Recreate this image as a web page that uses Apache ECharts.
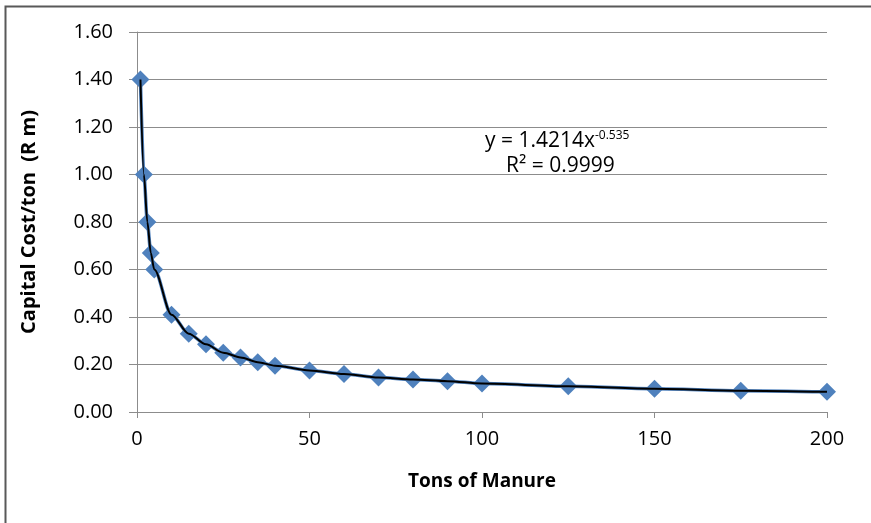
<!DOCTYPE html>
<html>
<head>
<meta charset="utf-8">
<script src="https://cdn.jsdelivr.net/npm/echarts@6/dist/echarts.min.js"></script>
<style>html,body{margin:0;padding:0;background:#fff}#c{width:871px;height:523px}</style>
</head>
<body>
<div id="c"></div>
<script>
var tons = [1, 2, 3, 4, 5, 10, 15, 20, 25, 30, 35, 40, 50, 60, 70, 80, 90, 100, 125, 150, 175, 200];
var cost = [1.40, 1.00, 0.80, 0.67, 0.60, 0.41, 0.33, 0.285, 0.25, 0.23, 0.21, 0.195, 0.175, 0.16, 0.145, 0.137, 0.13, 0.12, 0.108, 0.098, 0.09, 0.085];
var xTitle = 'Tons of Manure';
var yTitle = 'Capital Cost/ton  (R m)';
var eqText = ['y = 1.4214x', '-0.535', 'R² = 0.9999'];

var pts = tons.map(function (t, i) { return [t, cost[i]]; });
var font = '"Open Sans", sans-serif';
var grid = '#8c8c8c';
var chart = echarts.init(document.getElementById('c'));
chart.setOption({
  animation: false,
  backgroundColor: '#fff',
  grid: { left: 137, right: 44, top: 32, bottom: 111 },
  xAxis: {
    type: 'value', min: 0, max: 200, interval: 50,
    name: xTitle, nameLocation: 'middle', nameGap: 60,
    nameTextStyle: { fontFamily: font, fontWeight: 'bold', fontSize: 19, color: '#000' },
    axisLine: { show: true, lineStyle: { color: grid, width: 1 } },
    axisTick: { show: true, inside: false, length: 6, lineStyle: { color: grid } },
    axisLabel: { fontFamily: font, fontSize: 20, color: '#000', margin: 17 },
    splitLine: { show: false }
  },
  yAxis: {
    type: 'value', min: 0, max: 1.6, interval: 0.2,
    name: yTitle, nameLocation: 'middle', nameGap: 98, nameRotate: 90,
    nameTextStyle: { fontFamily: font, fontWeight: 'bold', fontSize: 20, color: '#000', padding: [0, 0, 0, 0] },
    axisLine: { show: true, lineStyle: { color: grid, width: 1 } },
    axisTick: { show: true, inside: false, length: 8, lineStyle: { color: grid } },
    axisLabel: { fontFamily: font, fontSize: 20, color: '#000', margin: 24,
      formatter: function (v) { return v.toFixed(2); } },
    splitLine: { show: true, lineStyle: { color: grid, width: 1 } }
  },
  series: [
    {
      type: 'line', data: pts, smooth: 0.3, smoothMonotone: 'x',
      symbol: 'diamond', symbolSize: 18, showSymbol: true,
      lineStyle: { color: '#4F81BD', width: 3.5 },
      itemStyle: { color: '#4F81BD' }, z: 2
    },
    {
      type: 'line', data: pts, smooth: 0.3, smoothMonotone: 'x',
      symbol: 'none', lineStyle: { color: '#000', width: 2 }, z: 3
    }
  ],
  graphic: [
    { type: 'rect', left: 3, top: 4, shape: { width: 900, height: 560 },
      style: { fill: 'none', stroke: '#595959', lineWidth: 2 }, silent: true },
    { type: 'text', left: 485, top: 130,
      style: { rich: { a: { fontFamily: font, fontSize: 21, fill: '#000' },
                       s: { fontFamily: font, fontSize: 12, fill: '#000', verticalAlign: 'top', padding: [0, 0, 10, 0] } },
               text: '{a|' + eqText[0] + '}{s|' + eqText[1] + '}' } },
    { type: 'text', left: 506, top: 156,
      style: { text: eqText[2], fontFamily: font, fontSize: 21, fill: '#000' } }
  ]
});
</script>
</body>
</html>
